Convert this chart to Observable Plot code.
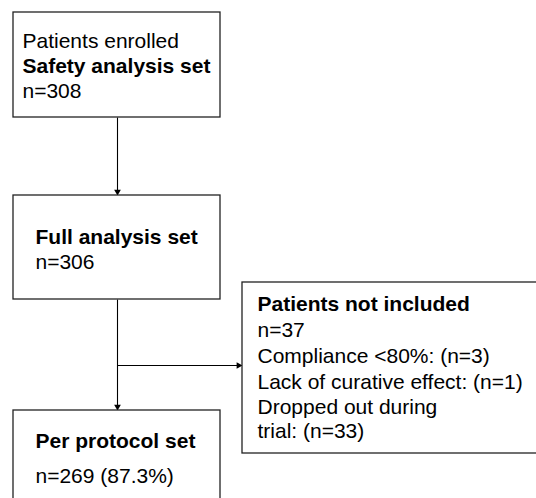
<!DOCTYPE html>
<html>
<head>
<meta charset="utf-8">
<script src="https://cdn.jsdelivr.net/npm/d3@7"></script>
<script src="https://cdn.jsdelivr.net/npm/@observablehq/plot@0.6"></script>
<style>
  html, body { margin: 0; padding: 0; background: #fff; overflow: hidden; }
  #chart svg { display: block; }
</style>
</head>
<body>
<div id="chart"></div>
<script>
// ---- Content (texts) ----
const boxIds = ["enrolled", "full", "perProtocol", "notIncluded"];
const enrolledLines = ["Patients enrolled", "Safety analysis set", "n=308"];
const enrolledBold = [false, true, false];
const fullLines = ["Full analysis set", "n=306"];
const fullBold = [true, false];
const perProtocolLines = ["Per protocol set", "n=269 (87.3%)"];
const perProtocolBold = [true, false];
const notIncludedLines = ["Patients not included", "n=37", "Compliance <80%: (n=3)",
  "Lack of curative effect: (n=1)", "Dropped out during", "trial: (n=33)"];
const notIncludedBold = [true, false, false, false, false, false];
const boxTexts = [enrolledLines, fullLines, perProtocolLines, notIncludedLines];
const boxBold = [enrolledBold, fullBold, perProtocolBold, notIncludedBold];
const edges = [["enrolled", "full"], ["full", "perProtocol"], ["full", "notIncluded"]];

// ---- Layout (pixel space) ----
const boxFrame = {
  enrolled:    {x1: 13,  y1: 12,  x2: 220, y2: 117},
  full:        {x1: 13,  y1: 195, x2: 220, y2: 299},
  perProtocol: {x1: 13,  y1: 410, x2: 220, y2: 512},
  notIncluded: {x1: 242, y1: 282, x2: 548, y2: 453}
};
const textPos = {
  enrolled:    {x: 22,  y: [47, 72, 97]},
  full:        {x: 35,  y: [243, 268]},
  perProtocol: {x: 35,  y: [447, 482]},
  notIncluded: {x: 257, y: [310, 336.5, 362.5, 388, 413, 437]}
};
const trunkX = 117;
const branchY = 365;

// ---- Build tables ----
const rects = boxIds.map(id => ({id, ...boxFrame[id]}));
const texts = boxIds.flatMap((id, i) => boxTexts[i].map((t, j) => ({
  text: t, bold: boxBold[i][j], x: textPos[id].x, y: textPos[id].y[j]
})));
const links = edges.map(([a, b]) => {
  const A = boxFrame[a], B = boxFrame[b];
  if (b === "notIncluded") return {x1: trunkX, y1: branchY, x2: B.x1, y2: branchY, dir: "right"};
  return {x1: trunkX, y1: A.y2, x2: trunkX, y2: B.y1, dir: "down"};
});
const headOffset = 3.9;
const heads = links.map(l => l.dir === "down"
  ? {x: l.x2, y: l.y2 - headOffset, rotate: 180}
  : {x: l.x2 - headOffset, y: l.y2, rotate: 90});

const chart = Plot.plot({
  width: 536,
  height: 498,
  margin: 0,
  style: {fontFamily: "Arial, 'Liberation Sans', sans-serif", background: "#fff"},
  x: {domain: [0, 536], range: [0, 536], axis: null},
  y: {domain: [0, 498], range: [0, 498], axis: null},
  marks: [
    Plot.link(links, {x1: "x1", y1: "y1", x2: "x2", y2: "y2", stroke: "#000", strokeWidth: 1.1}),
    Plot.dot(heads, {x: "x", y: "y", symbol: "triangle", r: 2.5, fill: "#000", stroke: "none", rotate: "rotate"}),
    Plot.rect(rects, {x1: "x1", x2: "x2", y1: "y1", y2: "y2", fill: "#fff", stroke: "#222", strokeWidth: 1.3}),
    Plot.text(texts.filter(d => !d.bold), {x: "x", y: "y", text: "text", textAnchor: "start",
      lineAnchor: "bottom", fontSize: 21, fill: "#000"}),
    Plot.text(texts.filter(d => d.bold), {x: "x", y: "y", text: "text", textAnchor: "start",
      lineAnchor: "bottom", fontSize: 21, fontWeight: "bold", fill: "#000"})
  ]
});
document.getElementById("chart").appendChild(chart);
</script>
</body>
</html>
